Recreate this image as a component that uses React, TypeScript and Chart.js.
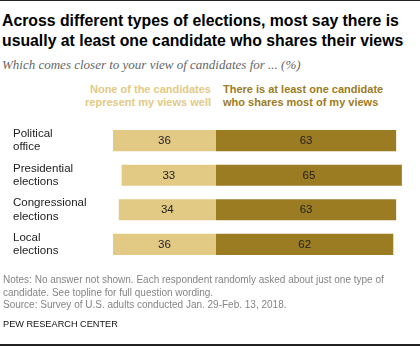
import React, { useEffect, useRef } from "react";
import { Chart, registerables } from "chart.js";

Chart.register(...registerables);

const categories: string[][] = [
  ["Political", "office"],
  ["Presidential", "elections"],
  ["Congressional", "elections"],
  ["Local", "elections"],
];
const noneValues = [36, 33, 34, 36];
const atLeastOneValues = [63, 65, 63, 62];
const seriesNames = [
  "None of the candidates represent my views well",
  "There is at least one candidate who shares most of my views",
];

const LIGHT = "#e2ca84";
const DARK = "#9c7c22";
const SANS = '"Liberation Sans", Arial, sans-serif';

const valueLabels = {
  id: "valueLabels",
  afterDatasetsDraw(chart: any) {
    const ctx = chart.ctx;
    ctx.save();
    ctx.font = `11.5px ${SANS}`;
    ctx.fillStyle = "#222";
    ctx.textAlign = "center";
    ctx.textBaseline = "middle";
    chart.data.datasets.forEach((ds: any, di: number) => {
      const meta = chart.getDatasetMeta(di);
      meta.data.forEach((el: any, i: number) => {
        const p = el.getProps(["x", "y", "base"], true);
        const v = Math.abs(ds.data[i]);
        ctx.fillText(String(v), (p.x + p.base) / 2, p.y + 0.5);
      });
    });
    ctx.restore();
  },
};

function BarChart() {
  const ref = useRef<HTMLCanvasElement>(null);
  useEffect(() => {
    if (!ref.current) return;
    const chart = new Chart(ref.current, {
      type: "bar",
      data: {
        labels: categories,
        datasets: [
          {
            label: seriesNames[0],
            data: noneValues.map((v) => -v),
            backgroundColor: LIGHT,
            barPercentage: 0.612,
            categoryPercentage: 1,
          },
          {
            label: seriesNames[1],
            data: atLeastOneValues,
            backgroundColor: DARK,
            barPercentage: 0.612,
            categoryPercentage: 1,
          },
        ],
      },
      options: {
        indexAxis: "y",
        responsive: false,
        animation: false,
        devicePixelRatio: 1,
        layout: { padding: { left: 13, right: 12.4, top: 4.4, bottom: 3.8 } },
        plugins: { legend: { display: false }, tooltip: { enabled: false } },
        scales: {
          x: { stacked: true, display: false, min: -38, max: 67 },
          y: {
            stacked: true,
            grid: { display: false },
            border: { display: false },
            afterFit: (scale: any) => {
              scale.width = 94.3;
            },
            ticks: {
              autoSkip: false,
              crossAlign: "far",
              padding: 0,
              color: "#222",
              font: { family: SANS, size: 11.5, lineHeight: 1.16 },
            },
          },
        },
      },
      plugins: [valueLabels],
    });
    return () => chart.destroy();
  }, []);
  return (
    <canvas
      ref={ref}
      width={420}
      height={165}
      style={{ position: "absolute", left: 0, top: 110, width: 420, height: 165 }}
    />
  );
}

export default function App() {
  const abs = (o: React.CSSProperties): React.CSSProperties => ({ position: "absolute", margin: 0, whiteSpace: "nowrap", ...o });
  return (
    <div style={{ position: "absolute", left: 0, top: 0, width: 420, height: 347, background: "#fff", overflow: "hidden" }}>
      <div style={abs({ left: 0, top: 0, width: 420, height: 1, background: "#222" })} />
      <div style={abs({ left: 2, top: 11, fontFamily: SANS, fontWeight: 700, fontSize: 15.8, lineHeight: "20px", color: "#000" })}>
        Across different types of elections, most say there is
        <br />
        usually at least one candidate who shares their views
      </div>
      <div style={abs({ left: 2, top: 57, fontFamily: '"Liberation Serif", serif', fontStyle: "italic", fontSize: 13, lineHeight: "15px", color: "#666" })}>
        Which comes closer to your view of candidates for ... (%)
      </div>
      <div style={abs({ right: 420 - 211, top: 83.2, fontFamily: SANS, fontWeight: 700, fontSize: 11, lineHeight: "13px", color: LIGHT, textAlign: "right" })}>
        None of the candidates
        <br />
        represent my views well
      </div>
      <div style={abs({ left: 223, top: 83.2, fontFamily: SANS, fontWeight: 700, fontSize: 11, lineHeight: "13px", color: DARK, textAlign: "left" })}>
        There is at least one candidate
        <br />
        who shares most of my views
      </div>
      <BarChart />
      <div style={abs({ left: 3, top: 274.4, fontFamily: SANS, fontSize: 10, lineHeight: "12.2px", color: "#858585" })}>
        Notes: No answer not shown. Each respondent randomly asked about just one type of
        <br />
        candidate. See topline for full question wording.
        <br />
        Source: Survey of U.S. adults conducted Jan. 29-Feb. 13, 2018.
      </div>
      <div style={abs({ left: 3, top: 319.3, fontFamily: SANS, fontSize: 9.2, lineHeight: "11px", color: "#111" })}>
        PEW RESEARCH CENTER
      </div>
      <div style={abs({ left: 0, top: 344, width: 420, height: 2, background: "#222" })} />
    </div>
  );
}
